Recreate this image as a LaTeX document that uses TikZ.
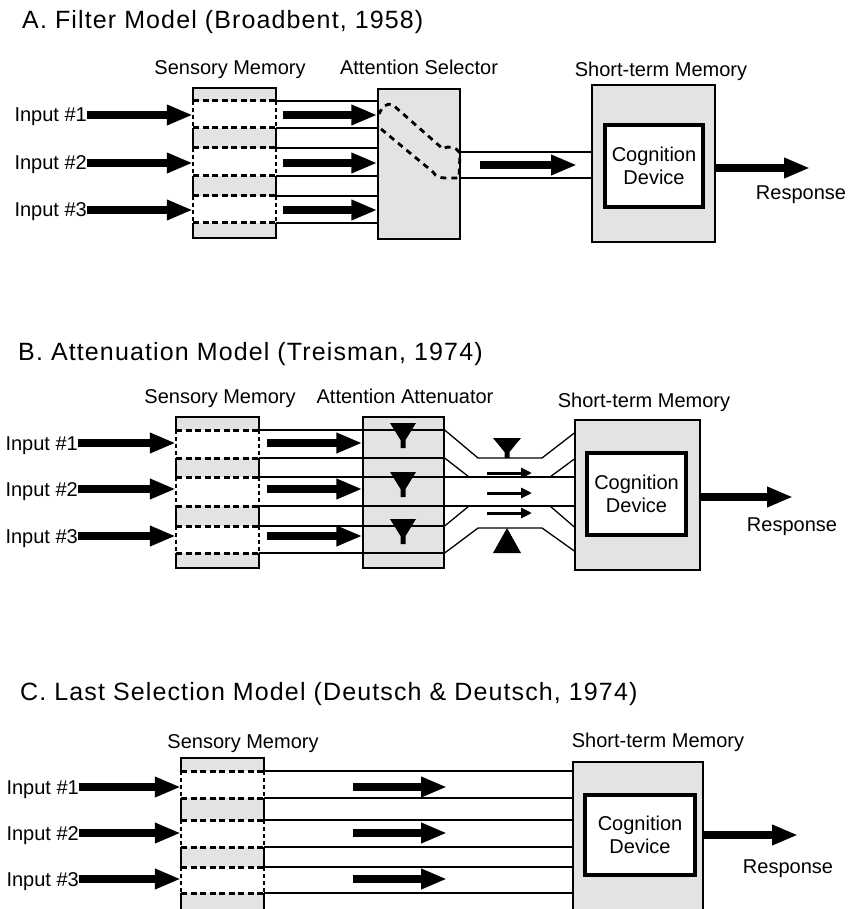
\documentclass[tikz,border=0pt]{standalone}
\usepackage{fontspec}
\setmainfont{Liberation Sans}
\newfontfamily\titlefont[LetterSpace=4.5]{Liberation Sans}
\usetikzlibrary{arrows.meta}

\tikzset{
  lbl/.style={font=\fontsize{20}{23}\selectfont, inner sep=0pt},
  ttl/.style={font=\titlefont\fontsize{25}{29}\selectfont, inner sep=0pt, anchor=base west},
  rim/.style={line width=1.3pt},
  chan/.style={line width=1.3pt},
  shadefill/.style={fill=black!11},
  divider/.style={line width=3pt, dash pattern=on 6pt off 3.5pt},
  sidedash/.style={line width=1.4pt, dash pattern=on 4pt off 3pt},
  stagebox/.style={draw, line width=1.3pt, fill=black!11, inner sep=0pt},
  holder/.style={inner sep=0pt},
  cogbox/.style={draw, line width=3.8pt, fill=white, inner sep=0pt, align=center,
                 font=\fontsize{20}{23}\selectfont},
  fatarrow/.style={line width=8pt, -{Triangle[length=26pt,width=19pt]}},
  slimarrow/.style={line width=3pt, -{Triangle[length=11pt,width=10pt]}},
  tube/.style={line width=2.8pt, dash pattern=on 6pt off 5pt},
}

% Sensory memory store: #1 left x, #2 top, #3-#8 channel dividers, #9 bottom
\newcommand\sensmem[9]{%
  \pgfmathsetmacro\smR{#1+83}
  \fill[shadefill] (#1,#2) rectangle (\smR,#3);
  \fill[shadefill] (#1,#4) rectangle (\smR,#5);
  \fill[shadefill] (#1,#6) rectangle (\smR,#7);
  \fill[shadefill] (#1,#8) rectangle (\smR,#9);
  \draw[rim] (#1,#3) -- (#1,#2) -- (\smR,#2) -- (\smR,#3);
  \draw[rim] (#1,#4) -- (#1,#5) (\smR,#4) -- (\smR,#5);
  \draw[rim] (#1,#6) -- (#1,#7) (\smR,#6) -- (\smR,#7);
  \draw[rim] (#1,#8) -- (#1,#9) -- (\smR,#9) -- (\smR,#8);
  \draw[sidedash] (#1,#3) -- (#1,#4) (\smR,#3) -- (\smR,#4)
                  (#1,#5) -- (#1,#6) (\smR,#5) -- (\smR,#6)
                  (#1,#7) -- (#1,#8) (\smR,#7) -- (\smR,#8);
  \foreach \yy in {#3,#4,#5,#6,#7,#8} {\draw[divider] (#1,\yy) -- (\smR,\yy);}
}

% Attenuating funnel: #1 centre x, #2 top y
\newcommand\funnelat[2]{%
  \fill (#1-13,#2) -- (#1+13,#2) -- (#1+2.5,#2+17) -- (#1+2.5,#2+25)
        -- (#1-2.5,#2+25) -- (#1-2.5,#2+17) -- cycle;}

\begin{document}
\begin{tikzpicture}[x=1pt,y=-1pt]
\useasboundingbox (0,0) rectangle (851,909);

% ================= A. Filter model =================
\node[ttl] (ttlA) at (22,29) {A. Filter Model (Broadbent, 1958)};
\sensmem{193}{88}{101}{128}{148}{176}{196}{223}{238}
\node[holder, minimum width=83pt, minimum height=150pt] (smA) at (234.5,163) {};
\node[stagebox, minimum width=82pt, minimum height=150pt] (selA) at (419,164) {};
\node[lbl, anchor=base] (smAlbl) at (230,75) {Sensory Memory};
\node[lbl, anchor=base] (selAlbl) at (419,75) {Attention Selector};
\node[lbl, anchor=base] (stmAlbl) at (661,77) {Short-term Memory};

\foreach \yy in {101,128,148,176,196,223}
  \draw[chan] (smA.east |- 0,\yy) -- (selA.west |- 0,\yy);

\foreach \k/\yy in {1/115,2/163,3/210} {
  \node[lbl, anchor=base east] (inA\k) at (87,\yy+7) {Input \#\k};
  \draw[fatarrow] (inA\k.east |- 0,\yy) -- (smA.west |- 0,\yy);
  \coordinate (midA\k) at (283,\yy);
  \draw[fatarrow] (midA\k) -- (midA\k -| selA.west);
}

% the selecting tube
\draw[tube] (381,129) -- (433,172) .. controls (436,177) and (440,178) .. (446,178)
  -- (459,178) -- (460,153) .. controls (456,147) and (449,145) .. (443,149)
  -- (393,105) .. controls (387,102) and (382,107) .. (379,114);

\node[stagebox, minimum width=123pt, minimum height=157pt] (stmA) at (653.5,163.5) {};
\draw[chan] (selA.east |- 0,152) -- (stmA.west |- 0,152);
\draw[chan] (selA.east |- 0,178) -- (stmA.west |- 0,178);
\coordinate (outA) at (480,165);
\coordinate (outAtip) at (577,165);
\draw[fatarrow] (outA) -- (outAtip);
\node[cogbox, minimum width=98pt, minimum height=82pt] (cogA) at (654,166) {Cognition\\Device};
\coordinate (respAtip) at (810,168);
\draw[fatarrow] (stmA.east |- respAtip) -- (respAtip);
\node[lbl, anchor=base] (respA) at (801,200) {Response};

% ================= B. Attenuation model =================
\node[ttl] (ttlB) at (18,360) {B. Attenuation Model (Treisman, 1974)};
\sensmem{176}{417}{430}{458}{477}{506}{526}{553}{568}
\node[holder, minimum width=83pt, minimum height=151pt] (smB) at (217.5,492.5) {};
\node[stagebox, minimum width=81pt, minimum height=151pt] (attB) at (403.5,492.5) {};
\node[lbl, anchor=base] (smBlbl) at (220,403) {Sensory Memory};
\node[lbl, anchor=base] (attBlbl) at (405,403) {Attention Attenuator};
\node[lbl, anchor=base] (stmBlbl) at (644,407) {Short-term Memory};

\foreach \yy in {430,458,477,506,526,553}
  \draw[chan] (smB.east |- 0,\yy) -- (attB.east |- 0,\yy);

\foreach \k/\yy in {1/443,2/489,3/536} {
  \node[lbl, anchor=base east] (inB\k) at (78,\yy+7) {Input \#\k};
  \draw[fatarrow] (inB\k.east |- 0,\yy) -- (smB.west |- 0,\yy);
  \coordinate (midB\k) at (267,\yy);
  \draw[fatarrow] (midB\k) -- (midB\k -| attB.west);
}

\funnelat{403}{423}
\funnelat{403}{472}
\funnelat{403}{519}

\node[stagebox, minimum width=125pt, minimum height=150pt] (stmB) at (637.5,495) {};

% channels squeezed together between attenuator and memory
\draw[chan] (attB.east |- 0,430) -- (478,458) -- (542,458) -- (stmB.west |- 0,433);
\draw[chan] (attB.east |- 0,458) -- (469,477);
\draw[chan] (attB.east |- 0,477) -- (stmB.west |- 0,477);
\draw[chan] (550,477) -- (stmB.west |- 0,459);
\draw[chan] (attB.east |- 0,506) -- (stmB.west |- 0,506);
\draw[chan] (attB.east |- 0,526) -- (469,506);
\draw[chan] (550,506) -- (stmB.west |- 0,527);
\draw[chan] (attB.east |- 0,553) -- (478,528) -- (542,528) -- (stmB.west |- 0,551);

\foreach \k/\yy in {1/473,2/493,3/513} {
  \coordinate (thinB\k) at (487,\yy);
  \coordinate (thinBtip\k) at (532,\yy);
  \draw[slimarrow] (thinB\k) -- (thinBtip\k);
}

\fill (493,438) -- (521,438) -- (509.5,452) -- (509.5,458) -- (504.5,458) -- (504.5,452) -- cycle;
\fill (493,553) -- (521,553) -- (507,528) -- cycle;

\node[cogbox, minimum width=99pt, minimum height=82pt] (cogB) at (636.5,494) {Cognition\\Device};
\coordinate (respBtip) at (793,497);
\draw[fatarrow] (stmB.east |- respBtip) -- (respBtip);
\node[lbl, anchor=base] (respB) at (792,531) {Response};

% ================= C. Late selection model =================
\node[ttl] (ttlC) at (20,700) {C. Last Selection Model (Deutsch \& Deutsch, 1974)};
\sensmem{181}{758}{771}{798}{820}{847}{867}{893}{925}
\node[holder, minimum width=83pt, minimum height=167pt] (smC) at (222.5,841.5) {};
\node[stagebox, minimum width=130pt, minimum height=163pt] (stmC) at (638,843.5) {};
\node[lbl, anchor=base] (smClbl) at (243,748) {Sensory Memory};
\node[lbl, anchor=base] (stmClbl) at (658,747) {Short-term Memory};

\foreach \yy in {771,798,820,847,867,893}
  \draw[chan] (smC.east |- 0,\yy) -- (stmC.west |- 0,\yy);

\foreach \k/\yy in {1/787,2/833,3/879} {
  \node[lbl, anchor=base east] (inC\k) at (79,\yy+7) {Input \#\k};
  \draw[fatarrow] (inC\k.east |- 0,\yy) -- (smC.west |- 0,\yy);
  \coordinate (midC\k) at (353,\yy);
  \coordinate (midCtip\k) at (447,\yy);
  \draw[fatarrow] (midC\k) -- (midCtip\k);
}

\node[cogbox, minimum width=110pt, minimum height=80pt] (cogC) at (640,835) {Cognition\\Device};
\coordinate (respCtip) at (798,835);
\draw[fatarrow] (stmC.east |- respCtip) -- (respCtip);
\node[lbl, anchor=base] (respC) at (788,873) {Response};

\end{tikzpicture}
\end{document}
